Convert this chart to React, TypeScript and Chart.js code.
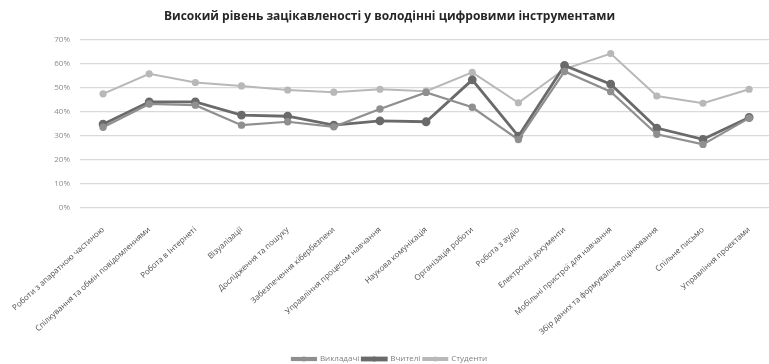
import React, { useEffect, useRef } from "react";
import { Chart, registerables } from "chart.js";

Chart.register(...registerables);

const categories = [
  "Роботи з апаратною частиною",
  "Спілкування та обмін повідомленнями",
  "Робота в Інтернеті",
  "Візуалізації",
  "Дослідження та пошуку",
  "Забезпечення кібербезпеки",
  "Управління процесом навчання",
  "Наукова комунікація",
  "Організація роботи",
  "Робота з аудіо",
  "Електронні документи",
  "Мобільні пристрої для навчання",
  "Збір даних та формувальне оцінювання",
  "Спільне письмо",
  "Управління проектами",
];

const vykladachi = [33.5, 43.2, 42.7, 34.4, 35.8, 33.7, 41.1, 48.0, 41.8, 28.4, 56.7, 48.3, 30.6, 26.4, 37.3];
const vchyteli = [34.8, 44.1, 44.1, 38.6, 38.1, 34.4, 36.2, 35.8, 53.2, 29.8, 59.2, 51.4, 33.2, 28.5, 37.6];
const studenty = [47.4, 55.7, 52.1, 50.7, 49.0, 48.1, 49.3, 48.5, 56.3, 43.7, 57.7, 64.1, 46.5, 43.5, 49.3];

const seriesNames = ["Викладачі", "Вчителі", "Студенти"];
const yMin = 0;
const yMax = 70;
const yStep = 10;

const title = "Високий рівень зацікавленості у володінні цифровими інструментами";

const legendMarkers = {
  id: "legendMarkers",
  afterDraw(chart: any) {
    const lg = chart.legend;
    if (!lg || !lg.legendHitBoxes) return;
    const ctx = chart.ctx;
    const bw = lg.options.labels.boxWidth;
    lg.legendHitBoxes.forEach((hb: any, i: number) => {
      const ds = chart.data.datasets[i];
      ctx.save();
      ctx.fillStyle = ds.borderColor;
      ctx.beginPath();
      ctx.arc(hb.left + bw / 2, hb.top + hb.height / 2, 2.5, 0, Math.PI * 2);
      ctx.fill();
      ctx.restore();
    });
  },
};

export default function App() {
  const ref = useRef<HTMLCanvasElement | null>(null);

  useEffect(() => {
    document.body.style.margin = "0";
    document.body.style.background = "#ffffff";
    const canvas = ref.current;
    if (!canvas) return;
    const colors = ["#8f8f8f", "#6a6a6a", "#b8b8b8"];
    const widths = [2.2, 2.8, 2];
    const chart = new Chart(canvas, {
      type: "line",
      data: {
        labels: categories,
        datasets: [vykladachi, vchyteli, studenty].map((d, i) => ({
          label: seriesNames[i],
          data: d,
          borderColor: colors[i],
          backgroundColor: colors[i],
          borderWidth: widths[i],
          pointRadius: i === 1 ? 3 : 2.6,
          pointBackgroundColor: colors[i],
          pointBorderColor: colors[i],
          tension: 0,
        })),
      },
      plugins: [legendMarkers],
      options: {
        responsive: false,
        animation: false,
        layout: { padding: { left: 0, right: 0, top: 4, bottom: -9 } },
        plugins: {
          title: {
            display: true,
            text: title,
            color: "#262626",
            font: { family: "Open Sans", size: 12, weight: "bold" },
            padding: { top: 5, bottom: 16 },
          },
          legend: {
            position: "bottom",
            labels: {
              boxWidth: 24,
              boxHeight: 2,
              color: "#7f7f7f",
              font: { family: "Open Sans", size: 8 },
              padding: 3,
            },
          },
          tooltip: { enabled: false },
        },
        scales: {
          x: {
            offset: true,
            grid: { display: false },
            border: { display: false },
            afterFit: (scale: any) => {
              scale.height = 144;
            },
            ticks: {
              color: "#4d4d4d",
              font: { family: "Open Sans", size: 8 },
              minRotation: 42,
              maxRotation: 42,
              autoSkip: false,
              padding: 9,
            },
          },
          y: {
            min: yMin,
            max: yMax,
            grid: { color: "#d9d9d9", lineWidth: 1.3, drawTicks: false },
            border: { display: false },
            afterFit: (scale: any) => {
              scale.width = 80;
            },
            ticks: {
              stepSize: yStep,
              color: "#8c8c8c",
              font: { family: "Open Sans", size: 8 },
              padding: 10,
              callback: (v: any) => v + "%",
            },
          },
        },
      },
    });
    return () => chart.destroy();
  }, []);

  return (
    <div style={{ width: 769, height: 364, overflow: "hidden" }}>
      <canvas ref={ref} width={779} height={364} style={{ display: "block" }} />
    </div>
  );
}
